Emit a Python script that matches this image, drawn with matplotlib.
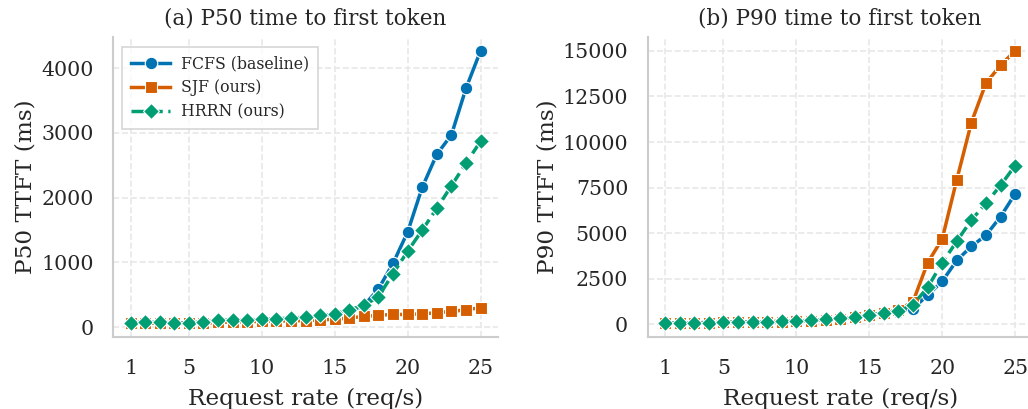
import matplotlib

matplotlib.use('agg')

from matplotlib import pyplot as plt

rates = list(range(1, 26))

# P50 TTFT (ms)
p50_fcfs = [75, 70, 68, 66, 66, 72, 90, 100, 105, 115, 120, 128, 150, 175, 200,
            240, 330, 590, 985, 1470, 2160, 2670, 2970, 3690, 4270]
p50_sjf = [60, 58, 57, 56, 56, 60, 70, 78, 80, 90, 92, 95, 100, 110, 120,
           140, 163, 183, 194, 194, 205, 220, 241, 267, 298]
p50_hrrn = [65, 70, 70, 68, 68, 75, 101, 112, 112, 127, 127, 137, 152, 179, 205,
            267, 334, 470, 826, 1172, 1498, 1835, 2182, 2534, 2870]

# P90 TTFT (ms)
p90_fcfs = [60, 75, 88, 98, 108, 120, 132, 148, 162, 182, 215, 265, 320, 390, 490,
            600, 700, 867, 1605, 2362, 3506, 4280, 4889, 5904, 7159]
p90_sjf = [55, 70, 85, 95, 105, 118, 128, 142, 158, 178, 210, 255, 310, 390, 500,
           650, 800, 1250, 3376, 4686, 7934, 11070, 13229, 14207, 15000]
p90_hrrn = [60, 75, 90, 100, 110, 125, 135, 150, 165, 185, 220, 270, 330, 400, 500,
            646, 738, 1070, 2030, 3376, 4557, 5720, 6642, 7620, 8708]

labels = ["FCFS (baseline)", "SJF (ours)", "HRRN (ours)"]
colors = ["#0173B2", "#D55E00", "#029E73"]
markers = ["o", "s", "D"]
sizes = [9, 8.3, 8.3]
styles = ["-", "-", "--"]

plt.rcParams['font.family'] = ['DejaVu Serif']
plt.rcParams['text.color'] = '#262626'
plt.rcParams['axes.labelcolor'] = '#262626'
plt.rcParams['xtick.color'] = '#262626'
plt.rcParams['ytick.color'] = '#262626'

fig = plt.figure(figsize=(10.28, 4.09), dpi=100)
ax1 = fig.add_axes([0.110, 0.176, 0.3745, 0.733])
ax2 = fig.add_axes([0.630, 0.176, 0.3745, 0.733])

panels = [
    (ax1, [p50_fcfs, p50_sjf, p50_hrrn], "(a) P50 time to first token", "P50 TTFT (ms)"),
    (ax2, [p90_fcfs, p90_sjf, p90_hrrn], "(b) P90 time to first token", "P90 TTFT (ms)"),
]

for ax, series, title, ylabel in panels:
    for ys, lab, c, m, s, ls in zip(series, labels, colors, markers, sizes, styles):
        ax.plot(rates, ys, color=c, marker=m, linestyle=ls, linewidth=2.5,
                markersize=s, markeredgecolor="white", markeredgewidth=0.8,
                label=lab)
    ax.set_title(title, fontsize=15.5, pad=9)
    ax.set_xlabel("Request rate (req/s)", fontsize=16.7, labelpad=7)
    ax.set_ylabel(ylabel, fontsize=16.7, labelpad=3)
    ax.set_xticks([1, 5, 10, 15, 20, 25])
    ax.tick_params(axis='both', labelsize=14.8, length=0)
    ax.tick_params(axis='x', pad=16)
    ax.tick_params(axis='y', pad=14)
    ax.grid(True, linestyle='--', color='#e8e8e8', linewidth=1.2)
    ax.set_axisbelow(True)
    for side in ['top', 'right']:
        ax.spines[side].set_visible(False)
    for side in ['left', 'bottom']:
        ax.spines[side].set_color('#cccccc')
        ax.spines[side].set_linewidth(1.5)

ax1.set_yticks([0, 1000, 2000, 3000, 4000])
ax2.set_yticks([0, 2500, 5000, 7500, 10000, 12500, 15000])

leg = ax1.legend(loc='upper left', fontsize=11.3, fancybox=False,
                 edgecolor='#cccccc', handlelength=2.5, handletextpad=0.7,
                 borderpad=0.55, labelspacing=0.45, borderaxespad=0.6)
leg.get_frame().set_linewidth(1.2)

plt.savefig("out.png")
